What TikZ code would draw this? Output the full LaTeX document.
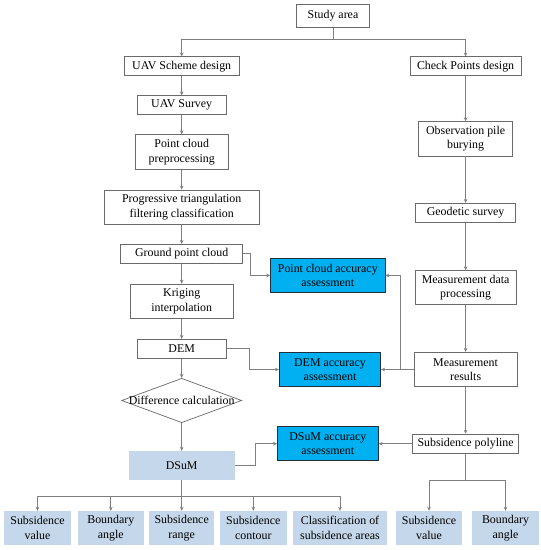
\documentclass[tikz,border=0pt]{standalone}
\usepackage{fontspec}
\setmainfont{Liberation Serif}
\usetikzlibrary{shapes.geometric,arrows.meta}
\definecolor{linec}{HTML}{7F7F7F}
\definecolor{boxc}{HTML}{6A6A6A}
\definecolor{lb}{HTML}{C5D7EA}
\definecolor{cy}{HTML}{00B0F0}
\definecolor{cyb}{HTML}{1F2F3F}
\newcommand\fsz{\fontsize{11.9}{14.6}\selectfont}
\begin{document}
\begin{tikzpicture}[x=1pt,y=-1pt,
  box/.style={draw=boxc, line width=0.7pt, fill=white, inner sep=0pt, align=center, font=\fsz, text=black},
  bluebox/.style={box, fill=cy, draw=cyb},
  lbox/.style={fill=lb, inner sep=0pt, align=center, font=\fsz, text=black},
  sz/.style 2 args={minimum width=#1pt, minimum height=#2pt},
  arr/.style={draw=linec, line width=0.7pt, -{Stealth[length=4pt,width=3.6pt]}},
  ln/.style={draw=linec, line width=0.7pt}]
\useasboundingbox (0,0) rectangle (541,550);

% top
\node[box, sz={72.6}{23.7}] (study) at (333,15.8) {Study area};

% left column
\node[box, sz={115}{19}] (uavd) at (181.7,66.3) {UAV Scheme design};
\node[box, sz={88.7}{18.6}] (uavs) at (181.7,105) {UAV Survey};
\node[box, sz={93}{34.6}] (pcp) at (181.7,152) {Point cloud\\preprocessing};
\node[box, sz={155}{34}] (ptf) at (181.7,207) {Progressive triangulation\\filtering classification};
\node[box, sz={122}{19}] (gpc) at (181.7,253.8) {Ground point cloud};
\node[box, sz={102.7}{34.3}] (krig) at (181.7,301.2) {Kriging\\interpolation};
\node[box, sz={89.4}{19}] (dem) at (181.7,348.8) {DEM};
\node[diamond, draw=boxc, line width=0.7pt, fill=white, inner sep=0pt, aspect=2.7, sz={120}{44.4}] (diff) at (181.7,400.5) {};
\node[font=\fsz, inner sep=0pt] (difft) at (diff.center) {Difference calculation};
\node[lbox, sz={105.7}{29}] (dsum) at (181.7,465.5) {DSuM};

% blue boxes
\node[bluebox, sz={114.3}{34.4}] (pca) at (327.8,275.5) {Point cloud accuracy\\assessment};
\node[bluebox, sz={101.4}{34.4}] (dema) at (330,369.5) {DEM accuracy\\assessment};
\node[bluebox, sz={101}{34}] (dsuma) at (327.8,443.7) {DSuM accuracy\\assessment};

% right column
\node[box, sz={111}{19}] (cpd) at (465.6,66.3) {Check Points design};
\node[box, sz={93.7}{34.3}] (opb) at (465.6,138.8) {Observation pile\\burying};
\node[box, sz={100.3}{19.4}] (geo) at (465.6,213) {Geodetic survey};
\node[box, sz={101.5}{34}] (mdp) at (465.6,287.6) {Measurement data\\processing};
\node[box, sz={103.2}{34.4}] (mr) at (465.6,369.5) {Measurement\\results};
\node[box, sz={106}{19.3}] (sp) at (465.6,443.7) {Subsidence polyline};

% bottom row
\node[lbox, sz={67}{34}] (sv1) at (37.5,528) {Subsidence\\value};
\node[lbox, sz={66.3}{34}] (ba1) at (110.8,528) {Boundary\\angle};
\node[lbox, sz={65.3}{34}] (sr) at (181.7,528) {Subsidence\\range};
\node[lbox, sz={66.7}{34}] (sc) at (253.3,528) {Subsidence\\contour};
\node[lbox, sz={94}{34}] (cls) at (340,528) {Classification of\\subsidence areas};
\node[lbox, sz={66}{34}] (sv2) at (429,528) {Subsidence\\value};
\node[lbox, sz={67}{34}] (ba2) at (505.5,528) {Boundary\\angle};

% connectors: top branch
\coordinate (b0) at (333,39.3);
\draw[ln] (study) -- (b0);
\draw[arr] (b0) -| (uavd);
\draw[arr] (b0) -| (cpd);

% left chain
\draw[arr] (uavd) -- (uavs);
\draw[arr] (uavs) -- (pcp);
\draw[arr] (pcp) -- (ptf);
\draw[arr] (ptf) -- (gpc);
\draw[arr] (gpc) -- (krig);
\draw[arr] (krig) -- (dem);
\draw[arr] (dem) -- (diff);
\draw[arr] (diff) -- (dsum);

% right chain
\draw[arr] (cpd) -- (opb);
\draw[arr] (opb) -- (geo);
\draw[arr] (geo) -- (mdp);
\draw[arr] (mdp) -- (mr);
\draw[arr] (mr) -- (sp);

% to accuracy boxes
\draw[arr] (gpc.east) -- ++(7.5,0) |- (pca.west);
\draw[arr] (dem.east) -- ++(22.6,0) |- (dema.west);
\draw[arr] (dsum.east) -- ++(21,0) |- (dsuma.west);
\draw[arr] (mr.west) -- (dema.east);
\coordinate (mj) at (400,369.5);
\draw[arr] (mj) |- (pca.east);
\draw[arr] (sp.west) -- (dsuma.east);

% bottom branches
\coordinate (b1) at (181.7,496);
\draw[ln] (dsum) -- (b1);
\draw[arr] (b1) -| (sv1);
\draw[arr] (b1) -| (ba1);
\draw[arr] (b1) -- (sr);
\draw[arr] (b1) -| (sc);
\draw[arr] (b1) -| (cls);

\coordinate (b2) at (465.6,480);
\draw[ln] (sp) -- (b2);
\draw[arr] (b2) -| (sv2);
\draw[arr] (b2) -| (ba2);
\end{tikzpicture}
\end{document}
